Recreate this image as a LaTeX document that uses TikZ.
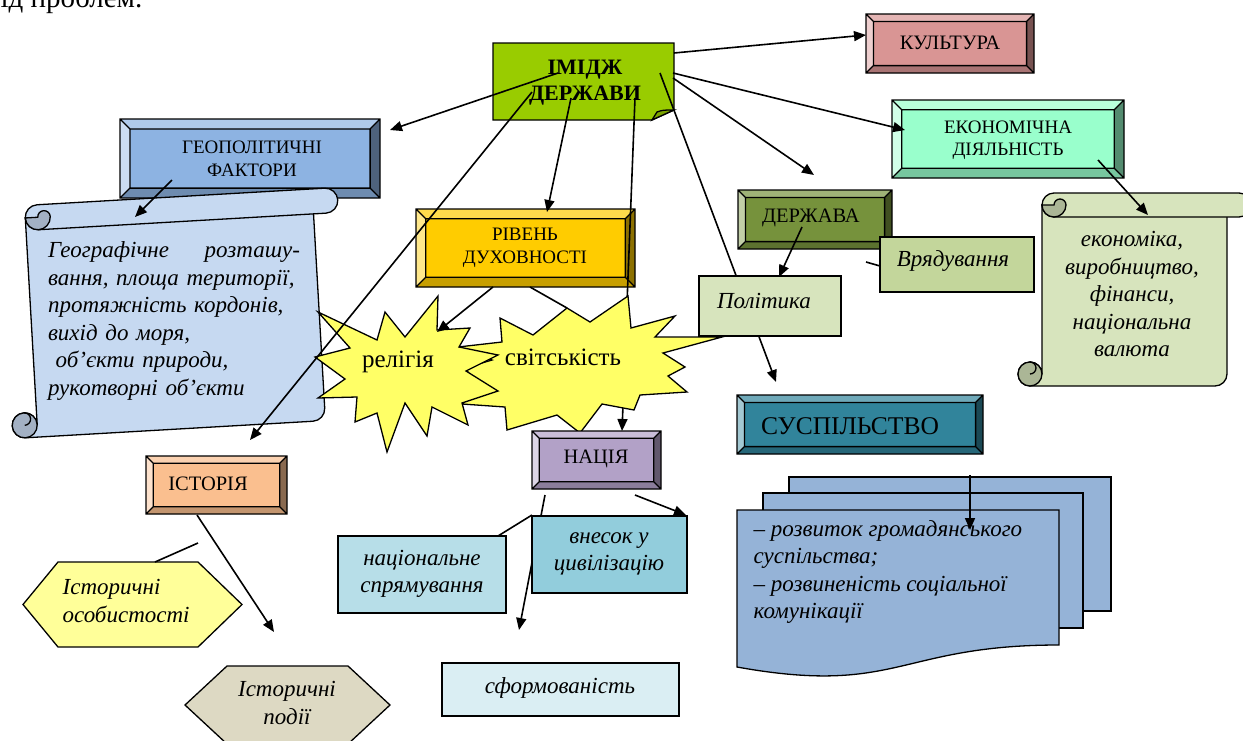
\documentclass[tikz,border=0pt]{standalone}
\usepackage{fontspec}
\setmainfont{Liberation Serif}
\usetikzlibrary{arrows.meta}
\definecolor{cImg}{HTML}{99CC00}
\definecolor{cImgD}{HTML}{7AA300}
\definecolor{cKult}{HTML}{D99594}
\definecolor{cEkon}{HTML}{99FFCC}
\definecolor{cGeo}{HTML}{8DB3E2}
\definecolor{cScrB}{HTML}{C6D9F1}
\definecolor{cScrBD}{HTML}{A3B1C4}
\definecolor{cRiv}{HTML}{FFCC00}
\definecolor{cStar}{HTML}{FFFF66}
\definecolor{cDerzh}{HTML}{76923C}
\definecolor{cVr}{HTML}{C3D69B}
\definecolor{cPol}{HTML}{D7E4BD}
\definecolor{cScrG}{HTML}{D7E4BD}
\definecolor{cScrGD}{HTML}{ABB696}
\definecolor{cSusp}{HTML}{31849B}
\definecolor{cDoc}{HTML}{95B3D7}
\definecolor{cNac}{HTML}{B2A1C7}
\definecolor{cVn}{HTML}{92CDDC}
\definecolor{cNs}{HTML}{B7DEE8}
\definecolor{cSf}{HTML}{DAEEF3}
\definecolor{cIst}{HTML}{FABF8F}
\definecolor{cOs}{HTML}{FFFF99}
\definecolor{cPod}{HTML}{DDD9C3}

\tikzset{
 outl/.style={draw=black, line width=1.3pt},
 arr/.style={line width=1.6pt, -{Triangle[length=12pt,width=10pt]}},
 ln/.style={line width=1.6pt},
 capA/.style={inner sep=0, align=center, font=\fontsize{19}{22.5}\selectfont},
 capB/.style={inner sep=0, align=center, font=\fontsize{20.5}{24}\selectfont},
 itx/.style={inner sep=0, font=\fontsize{23}{27.5}\selectfont\itshape},
}

% bevel box: x1 y1 x2 y2 colour bevel
\newcommand\bevbox[6]{%
 \fill[#5] (#1,#2) rectangle (#3,#4);
 \fill[#5!45!white] (#1,#2) -- (#1+#6,#2+#6) -- (#1+#6,#4-#6) -- (#1,#4) -- cycle;
 \fill[#5!70!white] (#1,#2) -- (#3,#2) -- (#3-#6,#2+#6) -- (#1+#6,#2+#6) -- cycle;
 \fill[#5!55!black] (#3,#2) -- (#3,#4) -- (#3-#6,#4-#6) -- (#3-#6,#2+#6) -- cycle;
 \fill[#5!78!black] (#1,#4) -- (#3,#4) -- (#3-#6,#4-#6) -- (#1+#6,#4-#6) -- cycle;
 \draw[line width=1.3pt] (#1,#2) rectangle (#3,#4) (#1+#6,#2+#6) rectangle (#3-#6,#4-#6)
   (#1,#2) -- (#1+#6,#2+#6) (#3,#2) -- (#3-#6,#2+#6) (#3,#4) -- (#3-#6,#4-#6) (#1,#4) -- (#1+#6,#4-#6);
}

% vertical scroll: L T R B c fill dark
\newcommand\vscroll[7]{%
 \pgfmathsetmacro\sL{#1}\pgfmathsetmacro\sT{#2}\pgfmathsetmacro\sR{#3}\pgfmathsetmacro\sB{#4}%
 \pgfmathsetmacro\sc{#5}\pgfmathsetmacro\sh{#5/2}\pgfmathsetmacro\sq{#5/4}%
 \filldraw[fill=#6, line width=1.3pt] ({\sL+\sh},\sB) -- ({\sR-\sc-\sh},\sB)
   arc[start angle=270,end angle=360,radius=\sh pt] -- ({\sR-\sc},{\sT+\sh})
   -- ({\sL+\sc},{\sT+\sh}) -- ({\sL+\sc},{\sB-\sh})
   arc[start angle=0,end angle=270,radius=\sh pt] -- cycle;
 \filldraw[fill=#7, line width=1.3pt] ({\sL+\sh},{\sB-\sh}) circle[radius=\sh pt];
 \draw[line width=1.3pt] ({\sL+\sh},{\sB-\sc}) arc[start angle=90,end angle=-90,radius=\sq pt];
 \filldraw[fill=#6, line width=1.3pt] ({\sL+\sc+\sh},\sT) -- ({\sR-\sh},\sT)
   arc[start angle=90,end angle=-90,radius=\sh pt] -- ({\sL+\sc+\sh},{\sT+\sc})
   arc[start angle=270,end angle=90,radius=\sh pt] -- cycle;
 \filldraw[fill=#7, line width=1.3pt] ({\sL+\sc},{\sT+\sh}) arc[start angle=180,end angle=360,radius=\sh pt]
   arc[start angle=0,end angle=180,radius=\sq pt] -- cycle;
}

\begin{document}
\begin{tikzpicture}[x=1pt,y=-1pt, line width=1.3pt]
\useasboundingbox (0,0) rectangle (1243,740);

% fragment of the running text
\node[anchor=base west, inner sep=0, font=\fontsize{29}{32}\selectfont] (toptext) at (0,7) {ід проблем.};

% ---------- named connector ends ----------
\coordinate (kultA) at (674,53);   \coordinate (kultB) at (866,35);
\coordinate (ekA) at (673,73);     \coordinate (ekB) at (905,130);
\coordinate (dzA) at (673,78);     \coordinate (dzB) at (814,175);
\coordinate (suA) at (660,73);     \coordinate (suB) at (776,382);
\coordinate (naA) at (635,98);     \coordinate (naB) at (622,431);
\coordinate (rvA) at (571,98);     \coordinate (rvB) at (547,212);
\coordinate (isA) at (532,92);     \coordinate (isB) at (250,440);
\coordinate (geA) at (558,73);     \coordinate (geB) at (390,130);
\coordinate (gsA) at (172,180);    \coordinate (gsB) at (135,217);
\coordinate (esA) at (1098,160);   \coordinate (esB) at (1148,215);
\coordinate (dpA) at (802,227);    \coordinate (dpB) at (779,277);
\coordinate (dvA) at (866,262);    \coordinate (dvB) at (880,266);
\coordinate (relA) at (493,287);   \coordinate (relB) at (437,332);
\coordinate (svA) at (530,287);    \coordinate (svB) at (567,308);
\coordinate (ipA) at (197,515);    \coordinate (ipB) at (274,632);
\coordinate (ioA) at (198,543);    \coordinate (ioB) at (155,562);
\coordinate (sfA) at (545,495);    \coordinate (sfB) at (519,630);
\coordinate (vnA) at (635,495);    \coordinate (vnB) at (686,515);
\coordinate (nsA) at (532,515);    \coordinate (nsB) at (498,536);
\coordinate (dcA) at (970,475);    \coordinate (dcB) at (970,530);

% ---------- IMIDZH DERZHAVY ----------
\filldraw[fill=cImg, line width=1.3pt] (493,43) -- (674,43) -- (674,110) -- (652,120) -- (493,120) -- cycle;
\filldraw[fill=cImgD, line width=1.3pt] (652,120) -- (657,112) .. controls (663,110) .. (674,110) -- cycle;
\node[inner sep=0, align=center, font=\fontsize{22}{26}\selectfont\bfseries] (imidzh) at (585,83) {ІМІДЖ\\ДЕРЖАВИ};

% ---------- KULTURA ----------
\bevbox{866}{14}{1034}{73}{cKult}{7.4}
\node[capB] (kult) at (950,43) {КУЛЬТУРА};

% ---------- EKONOMICHNA ----------
\bevbox{892}{100}{1124}{178}{cEkon}{9.75}
\node[capA] (ekon) at (1008,140) {ЕКОНОМІЧНА\\ДІЯЛЬНІСТЬ};

% ---------- GEOPOLITYCHNI ----------
\bevbox{120}{119}{380}{198}{cGeo}{9.9}
\node[capA] (geo) at (252,159) {ГЕОПОЛІТИЧНІ\\ФАКТОРИ};

% blue scroll
\begin{scope}[rotate around={3.3:(175,313)}]
\vscroll{6}{197}{344}{429}{25}{cScrB}{cScrBD}
\end{scope}
\node[itx, align=left, text width=262pt] (geotext) at (179,321)
 {\makebox[252pt]{Географічне\hfill розташу-}\\ вання, площа території,\\ протяжність кордонів,\\ вихід до моря,\\ \ об’єкти природи,\\ рукотворні об’єкти};

% green scroll
\vscroll{1018}{193}{1251}{386}{24}{cScrG}{cScrGD}
\node[itx, align=center] (ekontext) at (1132,294) {економіка,\\ виробництво,\\ фінанси,\\ національна\\ валюта};

% ---------- DERZHAVA ----------
\bevbox{738}{190}{892}{249}{cDerzh}{7.4}
\node[capB] (derzh) at (811,218) {ДЕРЖАВА};

\draw[ln] (dvA) -- (dvB);
\draw[outl, fill=cVr] (880,237) rectangle (1034,292);
\node[itx] (vr) at (953,261) {Врядування};

\draw[arr] (suA) -- (suB);
\draw[outl, fill=cPol] (699,276) rectangle (841,336);
\node[itx] (pol) at (764,301) {Політика};

% ---------- RIVEN DUKHOVNOSTI ----------
\bevbox{416}{209}{635}{287}{cRiv}{9.75}
\node[capA] (riv) at (525,248) {РІВЕНЬ\\ДУХОВНОСТІ};

\draw[arr] (naA) -- (naB);
\draw[ln] (svA) -- (svB);

% ---------- stars ----------
\filldraw[fill=cStar, line width=1.3pt] (628,296) -- (631,328) -- (675,316) -- (655,337) -- (722,337) -- (663,353)
 -- (685,367) -- (668,376) -- (687,392) -- (640,395) -- (634,410) -- (602,404) -- (580,433) -- (557,415)
 -- (507,430) -- (505,407) -- (462,404) -- (480,388) -- (465,368) -- (492,360) -- (458,347) -- (502,342)
 -- (500,318) -- (533,335) -- (567,308) -- (590,322) -- cycle;
\node[inner sep=0, font=\fontsize{25}{28}\selectfont] (svit) at (563,357) {світськість};

\filldraw[fill=cStar, line width=1.3pt] (438,296) -- (437,330) -- (470,328) -- (459,347) -- (498,355) -- (466,371)
 -- (498,391) -- (462,403) -- (468,425) -- (432,407) -- (427,436) -- (405,403) -- (387,452) -- (377,413)
 -- (355,422) -- (357,397) -- (318,398) -- (345,379) -- (315,357) -- (350,348) -- (318,312) -- (377,340)
 -- (385,312) -- (405,337) -- cycle;
\node[inner sep=0, font=\fontsize{25}{28}\selectfont] (rel) at (398,362) {релігія};

% ---------- NATSIYA and its boxes ----------
\draw[arr] (sfA) -- (sfB);
\draw[outl, fill=cVn] (532,516) rectangle (687,593);
\node[itx, align=center] (vnesok) at (609,554) {внесок у\\ цивілізацію};
\draw[outl, fill=cNs] (338,536) rectangle (506,613);
\node[itx, align=center] (natspr) at (422,574) {національне\\ спрямування};
\draw[outl, fill=cSf] (442,663) rectangle (679,716);
\node[itx] (sform) at (560,688) {сформованість};
\bevbox{532}{431}{661}{489}{cNac}{7.3}
\node[capB] (nats) at (596,459) {НАЦІЯ};

% ---------- SUSPILSTVO ----------
\bevbox{737}{395}{983}{454}{cSusp}{7.4}
\node[inner sep=0, font=\fontsize{25.5}{28}\selectfont] (susp) at (850,426) {СУСПІЛЬСТВО};
\filldraw[fill=cDoc, line width=1.3pt] (789,477) rectangle (1111,611);
\filldraw[fill=cDoc, line width=1.3pt] (763,493) rectangle (1083,628);
\filldraw[fill=cDoc, line width=1.3pt] (737,510) -- (1059,510) -- (1059,645) .. controls (898,645) and (898,696) .. (737,667) -- cycle;
\node[itx, align=left, anchor=west] (susptext) at (753,572) {– розвиток громадянського\\ суспільства;\\ – розвиненість соціальної\\ комунікації};

% ---------- ISTORIYA ----------
\bevbox{146}{456}{287}{514}{cIst}{7.3}
\node[capB] (ist) at (208,484) {ІСТОРІЯ};
\filldraw[fill=cOs, line width=1.3pt] (23,604.5) -- (58,562) -- (198,562) -- (242,604.5) -- (198,647) -- (58,647) -- cycle;
\node[itx, align=left, anchor=west] (osob) at (62,601) {Історичні\\ особистості};
\filldraw[fill=cPod, line width=1.3pt] (185,705) -- (227,666) -- (348,666) -- (390,705) -- (348,744) -- (227,744) -- cycle;
\node[itx, align=center] (podii) at (287,703) {Історичні\\ події};

% ---------- connectors on top ----------
\draw[arr] (kultA) -- (kultB);
\draw[arr] (ekA) -- (ekB);
\draw[arr] (dzA) -- (dzB);
\draw[arr] (rvA) -- (rvB);
\draw[arr] (geA) -- (geB);
\draw[arr] (gsA) -- (gsB);
\draw[arr] (esA) -- (esB);
\draw[arr] (dpA) -- (dpB);
\draw[arr] (relA) -- (relB);
\draw[arr] (ipA) -- (ipB);
\draw[ln] (ioA) -- (ioB);
\draw[arr] (vnA) -- (vnB);
\draw[ln] (nsA) -- (nsB);
\draw[arr] (dcA) -- (dcB);
\draw[arr] (isA) -- (isB);
\end{tikzpicture}
\end{document}
